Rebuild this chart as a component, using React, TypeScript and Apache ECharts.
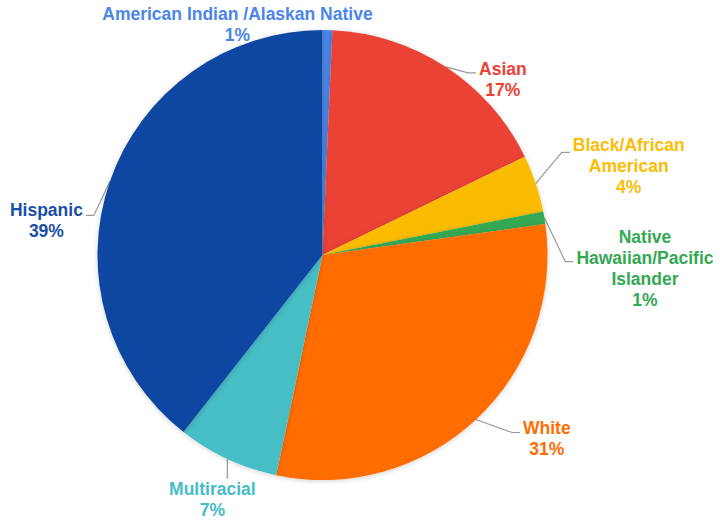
import React, { useEffect, useRef } from "react";
import * as echarts from "echarts";

// ---- data ----
const categories = [
  "American Indian /Alaskan Native",
  "Asian",
  "Black/African American",
  "Native Hawaiian/Pacific Islander",
  "White",
  "Multiracial",
  "Hispanic",
];
const labelNames = [
  "American Indian /Alaskan Native",
  "Asian",
  "Black/African\nAmerican",
  "Native\nHawaiian/Pacific\nIslander",
  "White",
  "Multiracial",
  "Hispanic",
];
const shares = [0.7, 17.1, 4.1, 0.9, 30.5, 7.3, 39.4];
const sliceColors = ["#4A86E8", "#EA4335", "#FBBC04", "#34A853", "#FF6D01", "#46BDC6", "#0D47A1"];
const labelColors = ["#4A86E8", "#EA4335", "#FBBC04", "#34A853", "#FF6D01", "#46BDC6", "#1A4EA8"];

// ---- label guide styling (offsets from each slice's edge anchor) ----
type Guide = { seg: [number, number, number]; side: number; shiftX: number; lift: number; hidden?: boolean };
const guides: Guide[] = [
  { seg: [0, 0, 0], side: 0, shiftX: -90, lift: 26.5, hidden: true },
  { seg: [22, 6, 8], side: 1, shiftX: 0, lift: 14.5 },
  { seg: [26, -31, 8], side: 1, shiftX: 0, lift: 17.5 },
  { seg: [21, 44, 8], side: 1, shiftX: 0, lift: 35.5 },
  { seg: [36, 13, 8], side: 1, shiftX: 0, lift: 15.5 },
  { seg: [0, 20, 0], side: 0, shiftX: -15, lift: 0 },
  { seg: [-16, 34, -8], side: -1, shiftX: 0, lift: 15.5 },
];
const GAP = 3;

export default function App() {
  const ref = useRef<HTMLDivElement>(null);

  useEffect(() => {
    if (!ref.current) return;
    const chart = echarts.init(ref.current, null, { renderer: "svg" });
    const data = categories.map((name, i) => ({
      name,
      value: shares[i],
      itemStyle: { color: sliceColors[i] },
      label: { color: labelColors[i] },
      labelLine: guides[i].hidden ? { lineStyle: { opacity: 0 } } : undefined,
    }));
    chart.setOption({
      animation: false,
      backgroundColor: "#ffffff",
      series: [
        {
          type: "pie",
          center: [322.5, 255],
          radius: 225,
          startAngle: 90,
          clockwise: true,
          avoidLabelOverlap: false,
          percentPrecision: 0,
          itemStyle: {
            borderWidth: 0,
            shadowBlur: 5,
            shadowColor: "rgba(0,0,0,0.18)",
            shadowOffsetY: 1,
          },
          label: {
            show: true,
            position: "outside",
            fontFamily: "'Liberation Sans', Arial, Helvetica, sans-serif",
            fontWeight: "bold",
            fontSize: 17.5,
            lineHeight: 21,
            formatter: (p: any) => `${labelNames[p.dataIndex]}\n${p.percent}%`,
          },
          labelLine: {
            show: true,
            length: 10,
            length2: 8,
            lineStyle: { color: "#9a9a9a", width: 1.2 },
          },
          labelLayout: (params: any) => {
            const g = guides[params.dataIndex];
            const pts = params.labelLinePoints;
            if (!g || !pts || !pts.length) return {};
            const p0 = pts[0];
            const p1 = [p0[0] + g.seg[0], p0[1] + g.seg[1]];
            const p2 = [p1[0] + g.seg[2], p1[1]];
            const w = params.labelRect.width;
            const x = g.side === 0 ? p2[0] + g.shiftX : p2[0] + g.side * (GAP + w / 2);
            return {
              x,
              y: p2[1] - g.lift,
              align: "center",
              verticalAlign: "top",
              labelLinePoints: [p0, p1, p2],
            };
          },
          data,
        },
      ],
    });
    return () => chart.dispose();
  }, []);

  return (
    <div
      ref={ref}
      style={{ position: "absolute", left: 0, top: 0, width: 720, height: 522, background: "#fff" }}
    />
  );
}
